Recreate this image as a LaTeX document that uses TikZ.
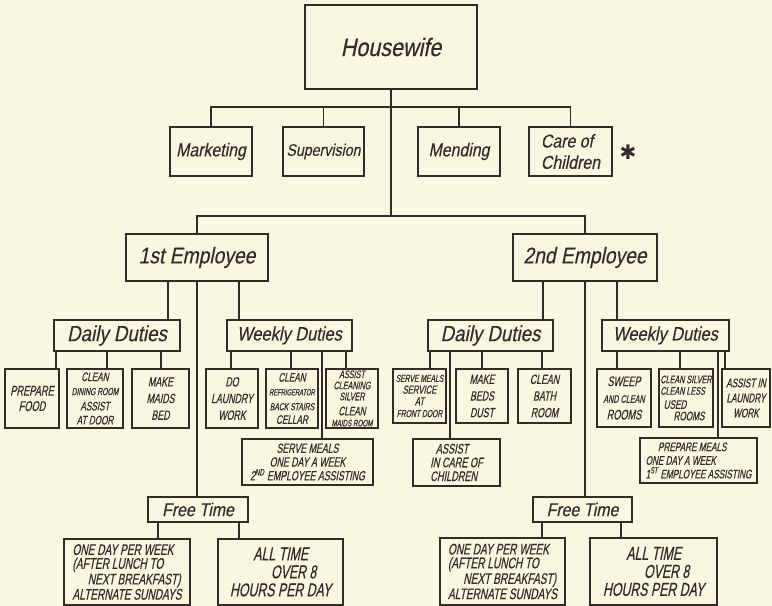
\documentclass[tikz,border=0pt]{standalone}
\usepackage{fontspec}
\newfontfamily\handfont{Liberation Sans}[FakeSlant=0.2,FakeStretch=0.85,FakeBold=0.3]
\newfontfamily\capsfont{Liberation Sans}[FakeSlant=0.2,FakeStretch=0.66,FakeBold=0.4]
\newfontfamily\symfont{DejaVu Sans}
\definecolor{paper}{RGB}{250,247,224}
\definecolor{ink}{RGB}{52,42,42}

\begin{document}
\begin{tikzpicture}[x=0.75pt,y=0.75pt,yscale=-1,xscale=1,
  boxsize/.style 2 args={minimum width=#1*0.75pt,minimum height=#2*0.75pt},
  link/.style={draw=ink,line width=1pt},
  box/.style={draw=ink,line width=1.1pt,inner sep=0pt,outer sep=0pt,align=center,text=ink},
  big/.style={box,font=\handfont\fontsize{14}{16}\selectfont},
  small/.style={box,font=\capsfont\fontsize{10}{12.5}\selectfont}]
\useasboundingbox (0,0) rectangle (772,606);
\fill[paper] (0,0) rectangle (772,606);

% Top boxes
\node[big,boxsize={172}{84},font=\handfont\fontsize{19}{22}\selectfont] (hw) at (391,47) {Housewife};
\node[big,boxsize={82}{49}] (mkt) at (211,151.5) {Marketing};
\node[big,boxsize={81}{49},font=\handfont\fontsize{12.5}{14}\selectfont] (sup) at (323.5,151.5) {Supervision};
\node[big,boxsize={82}{49}] (mend) at (459,151.5) {Mending};
\node[big,boxsize={83}{49},align=left] (care) at (570.5,151.5) {Care of\\Children};
\node[text=ink,font=\symfont\fontsize{15}{15}\selectfont] (star) at (628,152) {✱};

% Employees
\node[big,boxsize={142}{47},font=\handfont\fontsize{17}{19}\selectfont] (emp1) at (197,257.5) {1st Employee};
\node[big,boxsize={144}{47},font=\handfont\fontsize{17}{19}\selectfont] (emp2) at (585,257.5) {2nd Employee};

% Duties
\node[big,boxsize={126}{31},font=\handfont\fontsize{16.5}{18}\selectfont] (dd1) at (117,335.5) {Daily Duties};
\node[big,boxsize={125}{31},font=\handfont\fontsize{14.5}{17}\selectfont] (wd1) at (289.5,335.5) {Weekly Duties};
\node[big,boxsize={125}{31},font=\handfont\fontsize{16.5}{18}\selectfont] (dd2) at (490.5,335.5) {Daily Duties};
\node[big,boxsize={127}{31},font=\handfont\fontsize{14.5}{17}\selectfont] (wd2) at (665.5,335.5) {Weekly Duties};

% 1st employee tasks
\node[small,boxsize={54}{59},font=\capsfont\fontsize{10.5}{11.5}\selectfont] (pf) at (32,398.5) {PREPARE\\FOOD};
\node[small,boxsize={56}{59},font=\capsfont\fontsize{9.3}{10.5}\selectfont] (cdr) at (95,398.5) {CLEAN\\{\fontsize{7.7}{8}\selectfont DINING ROOM}\\[1pt]ASSIST\\AT DOOR};
\node[small,boxsize={57}{59}] (mmb) at (160.5,398.5) {MAKE\\MAIDS\\BED};
\node[small,boxsize={52}{59}] (dlw) at (232,398.5) {DO\\LAUNDRY\\WORK};
\node[small,boxsize={52}{59},font=\capsfont\fontsize{9.3}{10.2}\selectfont] (crf) at (292,398.5) {CLEAN\\{\fontsize{6.6}{7}\selectfont REFRIGERATOR}\\[1pt]{\fontsize{7.7}{8}\selectfont BACK STAIRS}\\CELLAR};
\node[small,boxsize={52}{59},font=\capsfont\fontsize{8.2}{8.3}\selectfont] (acs) at (352,398.5) {ASSIST\\CLEANING\\SILVER\\[3pt]{\fontsize{9.3}{9}\selectfont CLEAN}\\{\fontsize{7.1}{7}\selectfont MAIDS ROOM}};
\node[small,boxsize={131}{46},font=\capsfont\fontsize{10}{10.3}\selectfont] (sm1) at (307.5,462) {SERVE MEALS\\ONE DAY A WEEK\\2\textsuperscript{ND} EMPLOYEE ASSISTING};

% 2nd employee tasks
\node[small,boxsize={53}{54},font=\capsfont\fontsize{8.8}{8.8}\selectfont] (ssd) at (419.5,396) {{\fontsize{7.7}{8}\selectfont SERVE MEALS}\\SERVICE\\AT\\{\fontsize{7.7}{8}\selectfont FRONT DOOR}};
\node[small,boxsize={52}{54}] (mbd) at (482,396) {MAKE\\BEDS\\DUST};
\node[small,boxsize={53}{54}] (cbr) at (544.5,396) {CLEAN\\BATH\\ROOM};
\node[small,boxsize={87}{47},align=left,font=\capsfont\fontsize{10.4}{10.3}\selectfont] (aic) at (456.5,462.5) {\hspace*{0.4em}ASSIST\\IN CARE OF\\CHILDREN};
\node[small,boxsize={54}{58},font=\capsfont\fontsize{10.4}{12.5}\selectfont] (swp) at (624,398) {SWEEP\\{\fontsize{8.2}{8}\selectfont AND CLEAN}\\ROOMS};
\node[small,boxsize={54}{58},align=left,font=\capsfont\fontsize{8.2}{8.6}\selectfont] (csl) at (686,398) {CLEAN SILVER\\CLEAN LESS\\[2pt]\hspace*{0.3em}{\fontsize{9.3}{9}\selectfont USED}\\\hspace*{1.2em}{\fontsize{9.3}{9}\selectfont ROOMS}};
\node[small,boxsize={48}{58},font=\capsfont\fontsize{9.3}{11.25}\selectfont] (ail) at (746,398) {ASSIST IN\\LAUNDRY\\WORK};
\node[small,boxsize={117}{45},align=left,font=\capsfont\fontsize{9.3}{10.2}\selectfont] (pm2) at (698.5,460.5) {\hspace*{1em}PREPARE MEALS\\ONE DAY A WEEK\\1\textsuperscript{ST} EMPLOYEE ASSISTING};

% Free time
\node[big,boxsize={100}{25}] (ft1) at (198,509.5) {Free Time};
\node[big,boxsize={99}{25}] (ft2) at (582.5,509.5) {Free Time};
\node[small,boxsize={126}{66},align=left,font=\capsfont\fontsize{11.5}{10.4}\selectfont] (od1) at (127,572) {ONE DAY PER WEEK\\(AFTER LUNCH TO\\\hspace*{1em}NEXT BREAKFAST)\\ALTERNATE SUNDAYS};
\node[small,boxsize={125}{66},align=left,font=\capsfont\fontsize{14}{13.5}\selectfont] (at1) at (280.5,572) {\hspace*{1.25em}ALL TIME\\\hspace*{2.2em}OVER 8\\HOURS PER DAY};
\node[small,boxsize={125}{67},align=left,font=\capsfont\fontsize{11.5}{10.4}\selectfont] (od2) at (502.5,571.5) {ONE DAY PER WEEK\\(AFTER LUNCH TO\\\hspace*{1em}NEXT BREAKFAST)\\ALTERNATE SUNDAYS};
\node[small,boxsize={127}{67},align=left,font=\capsfont\fontsize{14}{13.5}\selectfont] (at2) at (653.5,571.5) {\hspace*{1.25em}ALL TIME\\\hspace*{2.2em}OVER 8\\HOURS PER DAY};

% Bus lines
\coordinate (tap1) at (391,107);
\coordinate (tap2) at (391,216);
\draw[link] (hw.south) -- (tap2);
\draw[link] (mkt.north) |- (tap1) -| (care.north);
\draw[link] (sup.north) -- (sup.north |- tap1);
\draw[link] (mend.north) -- (mend.north |- tap1);
\draw[link] (emp1.north) |- (tap2) -| (emp2.north);

% 1st employee links
\draw[link] (emp1.south) ++(-29,0) coordinate (e1d) -- (e1d |- dd1.north);
\draw[link] (emp1.south) ++(42,0) coordinate (e1w) -- (e1w |- wd1.north);
\draw[link] (emp1.south) -- (emp1.south |- ft1.north);
\draw[link] (dd1.south) ++(-61,0) coordinate (d1a) -- (d1a |- pf.north);
\draw[link] (dd1.south) ++(-10,0) coordinate (d1b) -- (d1b |- cdr.north);
\draw[link] (dd1.south) ++(44,0) coordinate (d1c) -- (d1c |- mmb.north);
\draw[link] (wd1.south) ++(-58.5,0) coordinate (w1a) -- (w1a |- dlw.north);
\draw[link] (wd1.south) ++(1.5,0) coordinate (w1b) -- (w1b |- crf.north);
\draw[link] (wd1.south) ++(56.5,0) coordinate (w1c) -- (w1c |- acs.north);
\draw[link] (wd1.south) ++(32.5,0) coordinate (w1d) -- (w1d |- sm1.north);
\draw[link] (ft1.south) ++(-40,0) coordinate (f1a) -- (f1a |- od1.north);
\draw[link] (ft1.south) ++(41,0) coordinate (f1b) -- (f1b |- at1.north);

% 2nd employee links
\draw[link] (emp2.south) ++(-42,0) coordinate (e2d) -- (e2d |- dd2.north);
\draw[link] (emp2.south) ++(32,0) coordinate (e2w) -- (e2w |- wd2.north);
\draw[link] (emp2.south) -- (emp2.south |- ft2.north);
\draw[link] (dd2.south) ++(-60.5,0) coordinate (d2a) -- (d2a |- ssd.north);
\draw[link] (dd2.south) ++(-40.5,0) coordinate (d2b) -- (d2b |- aic.north);
\draw[link] (dd2.south) ++(-8.5,0) coordinate (d2c) -- (d2c |- mbd.north);
\draw[link] (dd2.south) ++(51.5,0) coordinate (d2d) -- (d2d |- cbr.north);
\draw[link] (wd2.south) ++(-48.5,0) coordinate (w2a) -- (w2a |- swp.north);
\draw[link] (wd2.south) ++(14.5,0) coordinate (w2b) -- (w2b |- csl.north);
\draw[link] (wd2.south) ++(52.5,0) coordinate (w2c) -- (w2c |- pm2.north);
\draw[link] (wd2.south) ++(59.5,0) coordinate (w2d) -- (w2d |- ail.north);
\draw[link] (ft2.south) ++(-40.5,0) coordinate (f2a) -- (f2a |- od2.north);
\draw[link] (ft2.south) ++(38.5,0) coordinate (f2b) -- (f2b |- at2.north);

\end{tikzpicture}
\end{document}
